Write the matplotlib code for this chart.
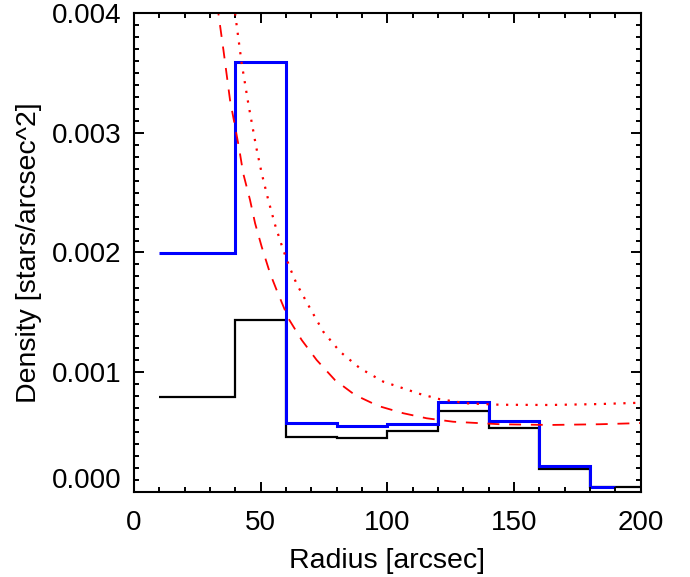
import matplotlib
matplotlib.use("Agg")
import matplotlib.pyplot as plt
from matplotlib.ticker import MultipleLocator, FuncFormatter

plt.rcParams['font.family'] = ['Liberation Sans', 'DejaVu Sans']

# Radial density histograms (bin edges in arcsec, density in stars/arcsec^2)
black_edges = [10, 40, 60, 80, 100, 120, 140, 160, 180, 200]
black_density = [0.000794, 0.001436, 0.000460, 0.000446, 0.000508,
                 0.000677, 0.000535, 0.000190, 0.000042]

blue_edges = [10, 40, 60, 80, 100, 120, 140, 160, 180, 190]
blue_density = [0.001996, 0.003593, 0.000572, 0.000552, 0.000564,
                0.000753, 0.000591, 0.000215, 0.000042]

# Fitted profiles
dashed_r = [32.5, 33.3, 35.3, 37.9, 39.9, 41.6, 43.1, 45.8, 47.8, 50.4, 53.7,
            56.3, 60.9, 66.2, 72.1, 79.3, 87.2, 96.4, 106.3, 115.5, 126.0,
            144.5, 164.2, 183.9, 197.1, 200.0]
dashed_density = [0.00408, 0.00400, 0.003693, 0.003275, 0.003052, 0.002857,
                  0.002662, 0.002439, 0.002244, 0.002048, 0.001826, 0.001686,
                  0.001450, 0.001268, 0.001101, 0.000934, 0.000809, 0.000717,
                  0.000656, 0.000614, 0.000585, 0.000564, 0.000558, 0.000564,
                  0.000572, 0.000574]

dotted_r = [39.2, 39.9, 42.5, 45.1, 48.2, 50.4, 53.0, 55.7, 58.9, 61.6, 64.2,
            69.5, 74.7, 81.3, 89.2, 98.4, 108.3, 112.9, 120.8, 131.3, 144.5,
            164.2, 183.9, 197.1, 200.0]
dotted_density = [0.00408, 0.00400, 0.003582, 0.003247, 0.002885, 0.002662,
                  0.002439, 0.002230, 0.002021, 0.001868, 0.001737, 0.001533,
                  0.001338, 0.001171, 0.001032, 0.000920, 0.000850, 0.000817,
                  0.000773, 0.000739, 0.000727, 0.000725, 0.000733, 0.000742,
                  0.000744]

fig = plt.figure(figsize=(6.90, 5.77), dpi=100)
ax = fig.add_axes([134 / 690, (577 - 491.7) / 577, 506.7 / 690, 478.4 / 577])

ax.stairs(black_density, black_edges, baseline=None, color='black', lw=1.6)
ax.stairs(blue_density, blue_edges, baseline=None, color='#0000ff', lw=2.2)
ax.plot(dashed_r, dashed_density, color='#ff0000', lw=1.3,
        linestyle=(0, (6.6, 5.4)))
ax.plot(dotted_r, dotted_density, color='#ff0000', lw=1.6,
        linestyle=(0, (1.0, 3.4)))

ax.set_xlim(0, 200)
ax.set_ylim(0, 0.004)

ax.xaxis.set_major_locator(MultipleLocator(50))
ax.xaxis.set_minor_locator(MultipleLocator(10))
ax.yaxis.set_major_locator(MultipleLocator(0.001))
ax.yaxis.set_minor_locator(MultipleLocator(0.0001))
# the zero label is drawn separately, lifted off the axis corner
ax.yaxis.set_major_formatter(
    FuncFormatter(lambda v, p: '' if abs(v) < 1e-9 else f'{v:.3f}'))

ax.tick_params(which='both', direction='in', top=True, right=True,
               width=1.4, labelsize=20, colors='black')
ax.tick_params(which='major', length=7.5)
ax.tick_params(axis='x', which='major', pad=13)
ax.tick_params(axis='y', which='major', pad=9)
ax.tick_params(which='minor', length=3.8)
for s in ax.spines.values():
    s.set_linewidth(1.5)

ax.annotate('0.000', xy=(0, 0), xycoords='axes fraction',
            xytext=(-9, 8), textcoords='offset points',
            ha='right', va='center', fontsize=20)

ax.set_xlabel('Radius [arcsec]', fontsize=20.5, labelpad=9)
ax.set_ylabel('Density [stars/arcsec^2]', fontsize=20.5, labelpad=7)

fig.savefig('out.png', dpi=100)
